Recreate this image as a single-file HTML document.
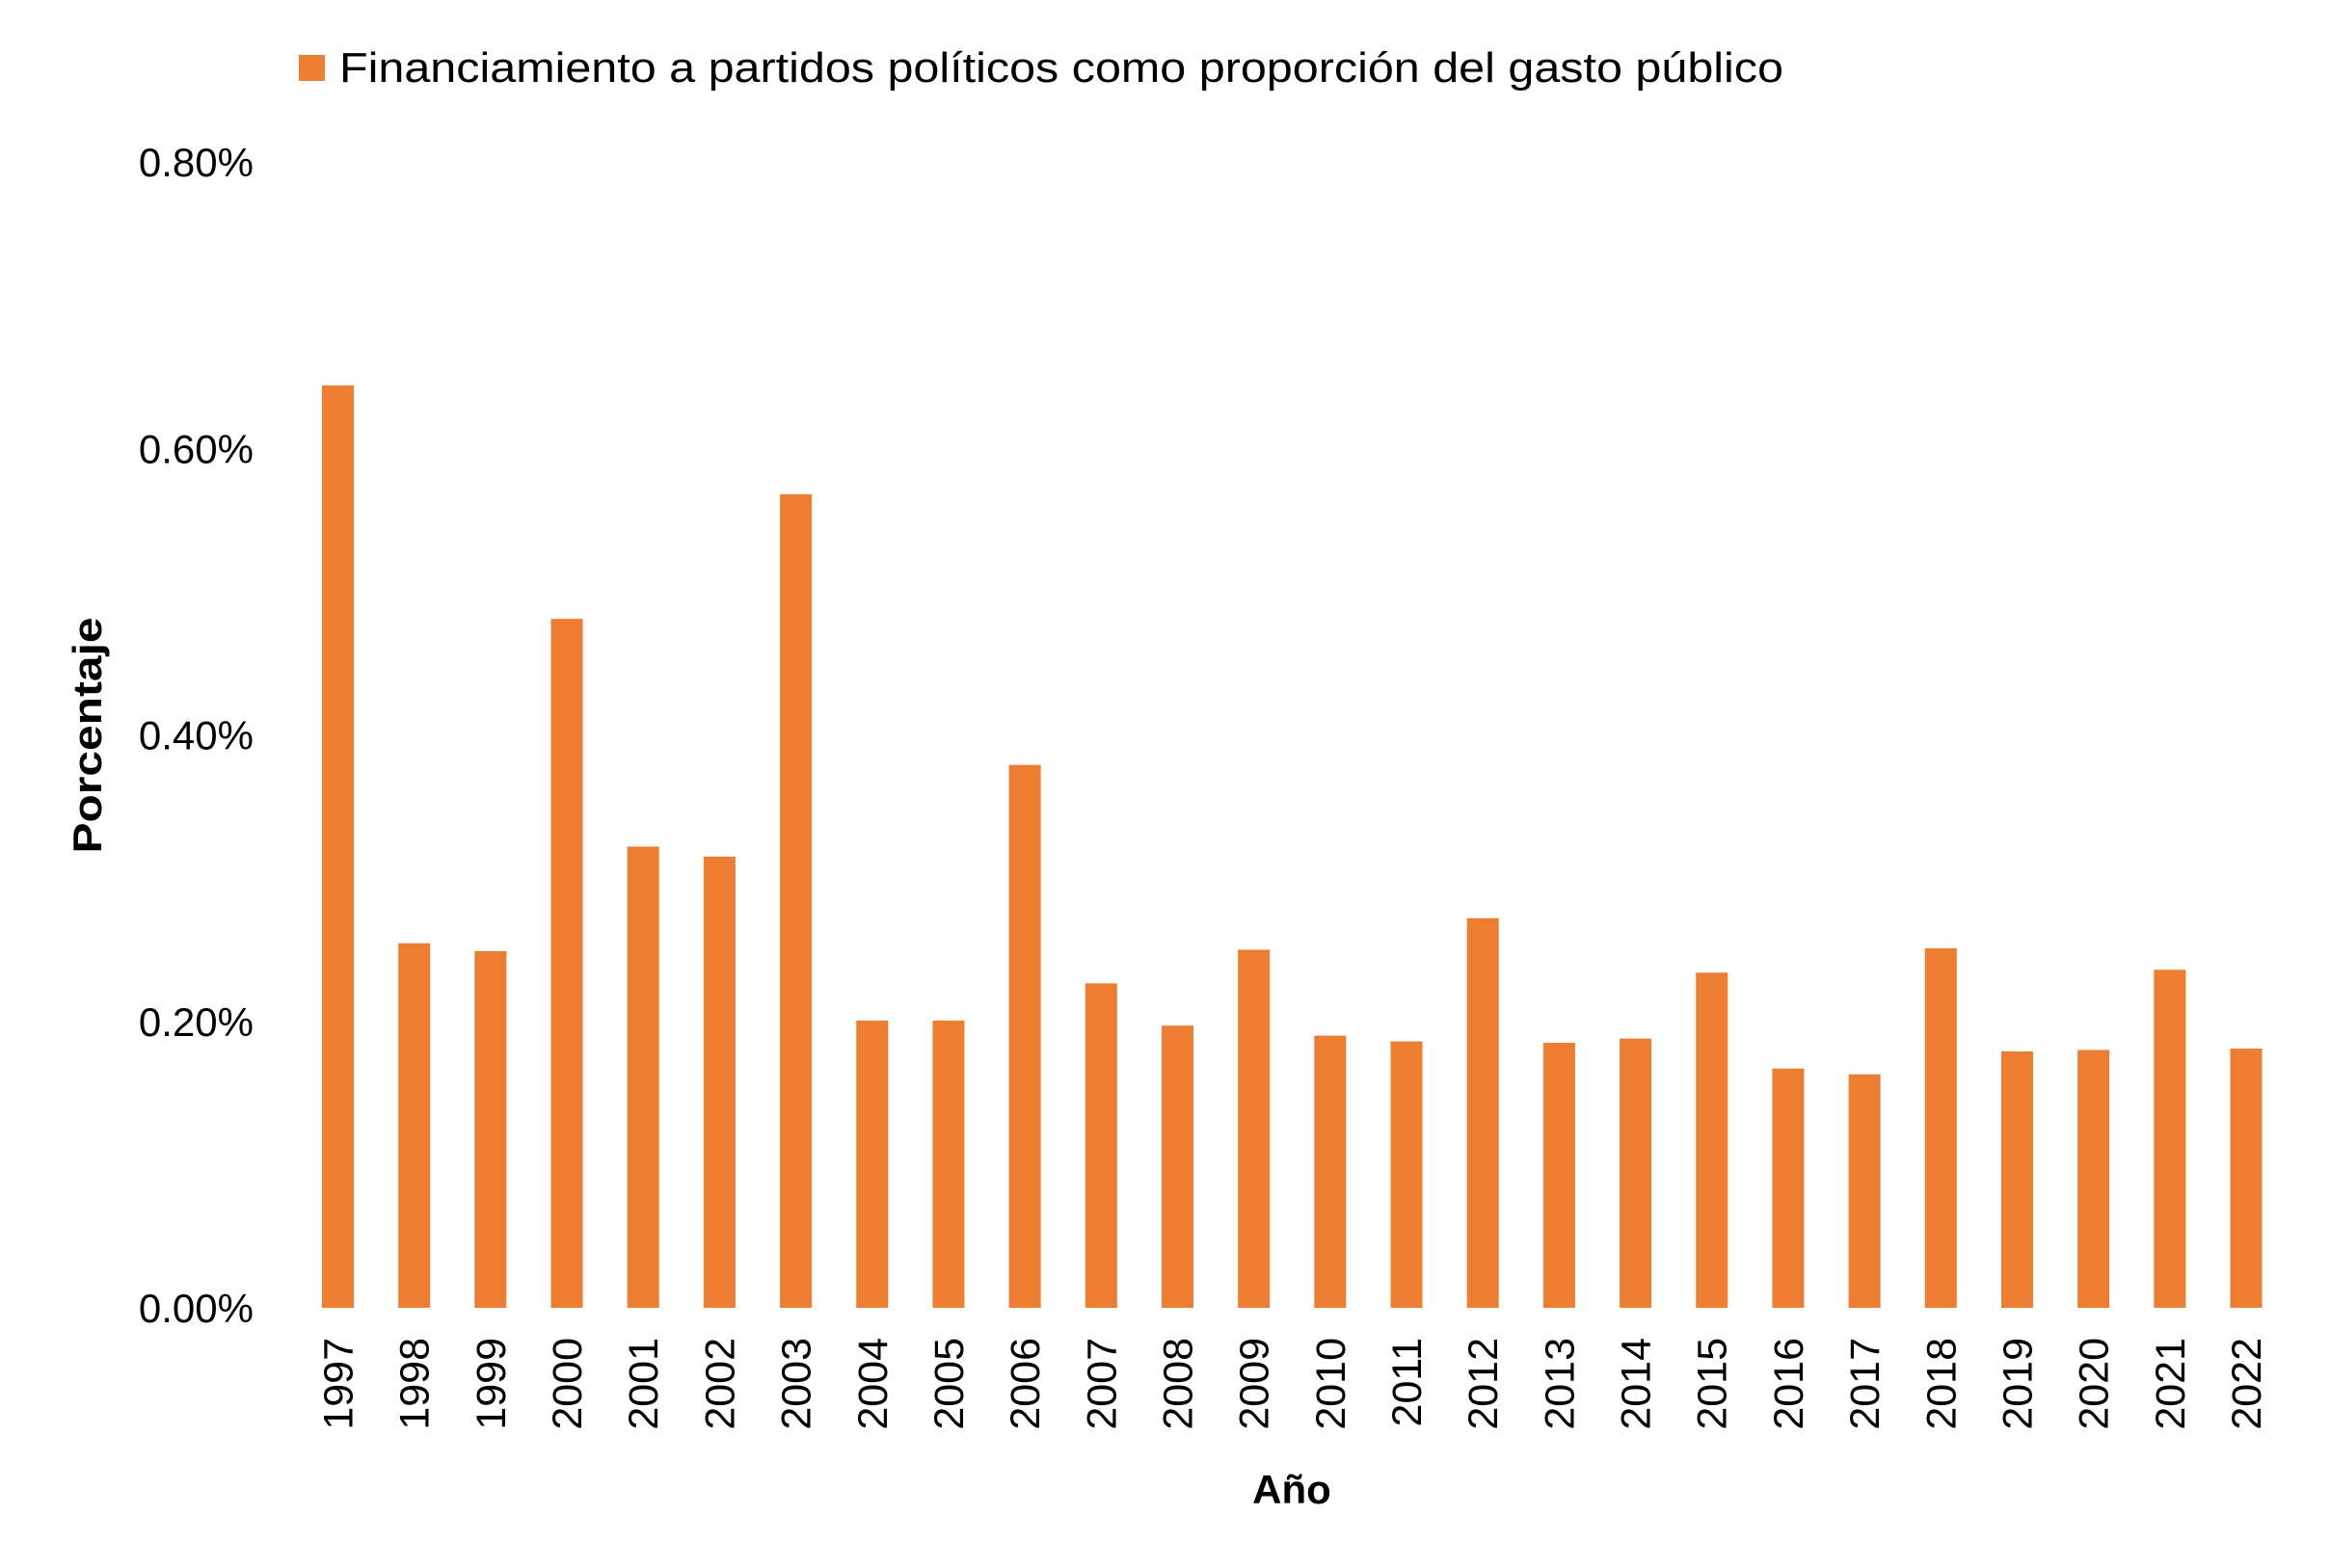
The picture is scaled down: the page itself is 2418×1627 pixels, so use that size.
<!DOCTYPE html>
<html><head><meta charset="utf-8"><style>
html,body{margin:0;padding:0;background:#fff;}
svg{display:block;font-family:"Liberation Sans",sans-serif;}
</style></head><body>
<svg id="chart" width="2418" height="1627" viewBox="0 0 2418 1627">
<g>
<rect x="310" y="57" width="27" height="27" fill="#ED7D31"/>
<text x="352" y="85" font-size="44" textLength="1498" lengthAdjust="spacingAndGlyphs" fill="#000">Financiamiento a partidos políticos como proporción del gasto público</text>
</g>
<text transform="translate(105,763) rotate(-90)" text-anchor="middle" font-size="42" font-weight="bold" textLength="245" lengthAdjust="spacingAndGlyphs" fill="#000">Porcentaje</text>
<text x="1340" y="1560" text-anchor="middle" font-size="42" font-weight="bold" fill="#000">Año</text>
<g id="yticks"></g>
<g id="bars"></g>
<g id="xticks"></g>
</svg>
<script>
const years = ["1997","1998","1999","2000","2001","2002","2003","2004","2005","2006","2007","2008","2009","2010","2011","2012","2013","2014","2015","2016","2017","2018","2019","2020","2021","2022"];
const values = [0.644,0.2545,0.249,0.481,0.322,0.315,0.568,0.2005,0.2005,0.379,0.2265,0.197,0.250,0.190,0.186,0.272,0.185,0.188,0.234,0.167,0.163,0.251,0.179,0.180,0.236,0.181];
const yTicks = [0,0.2,0.4,0.6,0.8];
const yTickLabels = ["0.00%","0.20%","0.40%","0.60%","0.80%"];

const NS="http://www.w3.org/2000/svg";
const y0=1357, yTop=168, yMax=0.8;
function yScale(v){return y0-(v/yMax)*(y0-yTop);}
const x0=350.5, step=(2330-350.5)/25, bw=33;
function xScale(i){return x0+i*step;}

const yg=document.getElementById('yticks');
yTicks.forEach((t,i)=>{
  const tx=document.createElementNS(NS,'text');
  
  
  tx.setAttribute('x',263);tx.setAttribute('y',yScale(t)+15);
  tx.setAttribute('text-anchor','end');tx.setAttribute('font-size','42');
  tx.textContent=yTickLabels[i];yg.appendChild(tx);
});
const bg=document.getElementById('bars'), xg=document.getElementById('xticks');
years.forEach((yr,i)=>{
  const r=document.createElementNS(NS,'rect');
  
  
  const top=yScale(values[i]);
  r.setAttribute('x',xScale(i)-bw/2);r.setAttribute('y',top);
  r.setAttribute('width',bw);r.setAttribute('height',y0-top);
  r.setAttribute('fill','#ED7D31');bg.appendChild(r);
  const t=document.createElementNS(NS,'text');
  
  
  t.setAttribute('transform','translate('+(xScale(i)+15)+',1388) rotate(-90)');
  t.setAttribute('text-anchor','end');t.setAttribute('font-size','43');
  t.textContent=yr;xg.appendChild(t);
});
</script>
</body></html>
